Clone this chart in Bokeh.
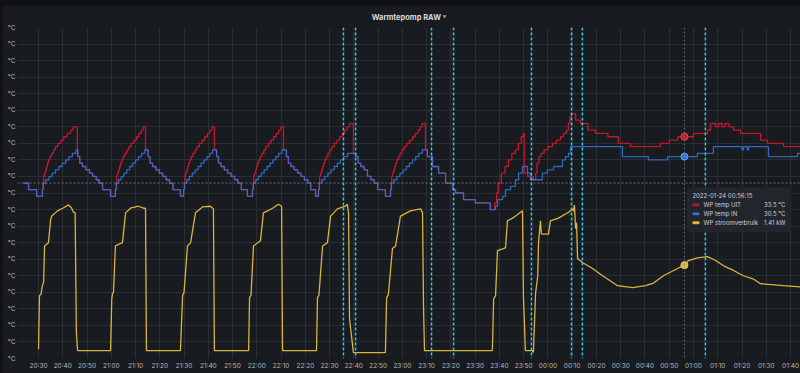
import datetime as dt
from bokeh.plotting import figure
from bokeh.models import (Range1d, FixedTicker, CustomJSTickFormatter, DatetimeTickFormatter,
                          Span, Label, BoxAnnotation, ColumnDataSource, GlobalInlineStyleSheet)
from bokeh.embed import file_html
from bokeh.resources import INLINE

# ---------------- data (time = minutes after 2022-01-23 20:30) ----------------
title_text = "Warmtepomp RAW ˅"
x_tick_labels = ["20:30", "20:40", "20:50", "21:00", "21:10", "21:20", "21:30", "21:40",
                 "21:50", "22:00", "22:10", "22:20", "22:30", "22:40", "22:50", "23:00",
                 "23:10", "23:20", "23:30", "23:40", "23:50", "00:00", "00:10", "00:20",
                 "00:30", "00:40", "00:50", "01:00", "01:10", "01:20", "01:30", "01:40"]
y_ticks = [0, 2.5, 5, 7.5, 10, 12.5, 15, 17.5, 20, 22.5, 25, 27.5, 30, 32.5, 35, 37.5,
           40, 42.5, 45, 47.5, 50]
y_tick_label = "°C"

series_names = ["WP temp UIT", "WP temp IN", "WP stroomverbruik"]
series_colors = ["#C4162A", "#3274D9", "#DCB43C"]

uit_t = [-6.2, -4.1, -0.8,
         1.6, 1.9, 2.1, 2.4, 2.9, 3.3, 3.7, 4.1, 4.7, 5.4, 6.2, 7.0, 8.0, 9.2, 10.4, 11.8, 13.2, 14.3, 16.0, 16.2, 17.0, 18.1, 19.5, 21.0, 22.3, 23.8, 25.0, 26.4, 29.7,
         31.7, 32.0, 32.2, 32.5, 33.0, 33.4, 33.8, 34.3, 34.9, 35.6, 36.4, 37.2, 38.2, 39.3, 40.4, 41.4, 42.4, 43.2, 44.1, 45.2, 46.0, 47.0, 48.4, 49.8, 51.2, 52.6, 54.0, 55.4, 58.5,
         59.8, 60.1, 60.3, 60.6, 61.1, 61.5, 61.9, 62.4, 63.0, 63.7, 64.5, 65.3, 66.3, 67.4, 68.5, 69.6, 70.6, 71.5, 72.5, 73.4, 74.2, 75.2, 76.6, 78.0, 79.4, 80.8, 82.2, 83.6, 86.1,
         88.2, 88.5, 88.7, 89.0, 89.5, 89.9, 90.3, 90.8, 91.4, 92.1, 92.9, 93.7, 94.7, 95.8, 96.9, 98.0, 99.0, 99.9, 101.0, 102.2, 103.0, 104.0, 105.4, 106.8, 108.2, 109.6, 111.0, 112.2, 114.2,
         115.4, 115.7, 115.9, 116.2, 116.7, 117.1, 117.5, 118.0, 118.6, 119.3, 120.1, 120.9, 121.9, 123.0, 124.1, 125.2, 126.2, 127.2, 128.2, 129.8, 130.8, 131.8, 132.8, 134.2, 135.6, 137.0, 138.4, 139.8, 143.0,
         145.1, 145.4, 145.6, 145.9, 146.4, 146.8, 147.2, 147.7, 148.3, 149.0, 149.8, 150.7, 151.8, 153.0, 154.2, 155.3, 156.4, 157.3, 158.1, 159.5, 160.3, 162.4, 164.9, 167.8, 170.7, 171.9, 175.2, 180.1, 186.1,
         188.0, 188.8, 189.5, 190.8, 192.3, 193.7, 195.1, 196.5, 197.8, 199.0, 199.8, 200.2, 201.6, 204.0, 204.9, 205.5, 206.3, 207.2, 208.4, 210.0, 211.9, 213.5, 215.2, 216.4, 217.6, 218.4, 219.0, 219.7,
         221.4, 223.4, 226.5, 229.6, 234.7, 239.0, 244.0, 256.4, 260.0, 263.5, 270.0, 275.8, 277.0, 279.1, 280.3, 281.8, 283.0, 284.6, 286.5, 289.4, 297.6, 300.5, 307.1, 315.0]
uit_v = [26.5, 25.5, 24.5,
         25.5, 26.5, 27.5, 28, 28.5, 29, 29.5, 30, 30.5, 31, 31.5, 32, 32.5, 33, 33.5, 34, 34.5, 35, 31.5, 30.5, 29.5, 29, 28.5, 28, 27.5, 27, 26.5, 25.5, 24.5,
         25.5, 26.5, 27.5, 28, 28.5, 29, 29.5, 30, 30.5, 31, 31.5, 32, 32.5, 33, 33.5, 34, 34.5, 35, 31.5, 30.5, 29.5, 29, 28.5, 28, 27.5, 27, 26.5, 25.5, 24.5,
         25.5, 26.5, 27.5, 28, 28.5, 29, 29.5, 30, 30.5, 31, 31.5, 32, 32.5, 33, 33.5, 34, 34.5, 35, 31.5, 30.5, 29.5, 29, 28.5, 28, 27.5, 27, 26.5, 25.5, 24.5,
         25.5, 26.5, 27.5, 28, 28.5, 29, 29.5, 30, 30.5, 31, 31.5, 32, 32.5, 33, 33.5, 34, 34.5, 35, 31.5, 30.5, 29.5, 29, 28.5, 28, 27.5, 27, 26.5, 25.5, 24.5,
         25.5, 26.5, 27.5, 28, 28.5, 29, 29.5, 30, 30.5, 31, 31.5, 32, 32.5, 33, 33.5, 34, 34.5, 35, 35.5, 31, 30.5, 29.5, 29, 28.5, 27.5, 27, 26.5, 25.5, 24.5,
         25.5, 26.5, 27.5, 28, 28.5, 29, 29.5, 30, 30.5, 31, 31.5, 32, 32.5, 33, 33.5, 34, 34.5, 35, 35.5, 31.5, 30.5, 29, 28, 26.5, 25.5, 25, 24, 23.5, 22.5,
         23.5, 25, 26.5, 28, 29, 30, 31, 31.5, 32.5, 33.5, 34, 28, 27.5, 27, 28, 29.5, 30.5, 31, 31.5, 32, 32.5, 33, 33.5, 34, 34.5, 35.5, 36.5, 37,
         36, 35.5, 34.5, 34, 33.5, 32.5, 32, 32.5, 33, 33.5, 34, 34.5, 35.5, 35, 35.5, 35, 35.5, 35, 34.5, 34, 33, 32.5, 32, 32]

in_t = [-6.2, -4.1, -0.8,
        1.6, 2.0, 3.0, 4.4, 5.6, 7.0, 8.4, 9.8, 11.2, 12.6, 14.0, 15.4, 16.2, 17.0, 18.1, 19.5, 21.0, 22.3, 23.8, 25.0, 26.4, 29.7,
        31.7, 32.1, 33.0, 34.1, 35.2, 36.4, 37.6, 38.8, 40.0, 41.2, 42.5, 43.8, 45.2, 46.0, 47.0, 48.4, 49.8, 51.2, 52.6, 54.0, 55.4, 58.5,
        59.8, 60.2, 61.1, 62.2, 63.4, 64.6, 65.8, 67.0, 68.2, 69.4, 70.6, 71.8, 73.4, 74.2, 75.2, 76.6, 78.0, 79.4, 80.8, 82.2, 83.6, 86.1,
        88.2, 88.6, 89.5, 90.6, 91.8, 93.0, 94.2, 95.4, 96.6, 97.8, 99.0, 100.4, 102.2, 103.0, 104.0, 105.4, 106.8, 108.2, 109.6, 111.0, 112.2, 114.2,
        115.4, 115.8, 116.8, 118.0, 119.3, 120.6, 121.9, 123.2, 124.5, 125.8, 127.4, 130.8, 131.8, 132.8, 134.2, 135.6, 137.0, 138.4, 139.8, 143.0,
        145.1, 145.5, 146.5, 147.7, 149.0, 150.3, 151.6, 152.9, 154.2, 155.5, 156.8, 158.2, 160.3, 162.4, 164.9, 167.8, 170.7, 171.9, 175.2, 180.1, 186.3,
        188.4, 189.2, 191.3, 192.5, 194.6, 196.6, 197.9, 199.5, 201.6, 202.8, 207.7, 209.8, 212.3, 216.0, 217.2, 218.5, 219.3,
        240.7, 251.4, 259.3, 271.6, 278.2, 290.0, 290.6, 292.1, 292.7, 300.9, 312.9, 315.0]
in_v = [26.5, 25.5, 24.5,
        25.5, 26.5, 27, 27.5, 28, 28.5, 29, 29.5, 30, 30.5, 31, 31.5, 30.5, 29.5, 29, 28.5, 28, 27.5, 27, 26.5, 25.5, 24.5,
        25.5, 26.5, 27, 27.5, 28, 28.5, 29, 29.5, 30, 30.5, 31, 31.5, 30.5, 29.5, 29, 28.5, 28, 27.5, 27, 26.5, 25.5, 24.5,
        25.5, 26.5, 27, 27.5, 28, 28.5, 29, 29.5, 30, 30.5, 31, 31.5, 30.5, 29.5, 29, 28.5, 28, 27.5, 27, 26.5, 25.5, 24.5,
        25.5, 26.5, 27, 27.5, 28, 28.5, 29, 29.5, 30, 30.5, 31, 31.5, 30.5, 29.5, 29, 28.5, 28, 27.5, 27, 26.5, 25.5, 24.5,
        25.5, 26.5, 27, 27.5, 28, 28.5, 29, 29.5, 30, 30.5, 31, 30.5, 29.5, 29, 28.5, 27.5, 27, 26.5, 25.5, 24.5,
        25.5, 26.5, 27, 27.5, 28, 28.5, 29, 29.5, 30, 30.5, 31, 31.5, 30.5, 29, 28, 26.5, 25.5, 25, 24, 23.5, 22.5,
        23, 24, 24.5, 25.5, 26, 27, 28, 29, 28, 27, 28, 28.5, 29, 30, 30.5, 31, 32,
        30.5, 30, 30.5, 31, 32, 31.5, 32, 31.5, 32, 30.5, 31, 31]

kw_t = [0.0, 0.4, 1.0, 1.6, 2.1, 2.5, 4.1, 5.0, 5.4, 7.8, 10.0, 12.4, 13.5, 14.4, 15.1, 15.6, 16.1, 29.7,
        30.2, 30.5, 30.9, 31.7, 34.6, 35.9, 37.9, 41.2, 43.3, 44.1, 44.5, 58.5,
        59.4, 60.0, 61.4, 62.7, 64.7, 67.6, 70.9, 72.1, 72.5, 86.6,
        87.0, 87.6, 88.6, 91.5, 92.7, 96.5, 98.9, 100.2, 100.6, 114.6,
        115.0, 115.6, 117.1, 119.1, 120.4, 123.2, 126.5, 127.3, 127.8, 128.2, 129.8, 143.0,
        143.5, 144.2, 145.9, 147.2, 149.2, 153.3, 157.5, 158.3, 158.7, 159.1, 187.1,
        187.6, 188.4, 189.2, 192.5, 193.3, 195.4, 198.7, 199.5, 199.9, 200.7, 203.6, 204.0,
        204.9, 205.8, 206.1, 206.9, 207.3, 210.2, 211.0, 214.3, 218.5, 220.1, 220.5, 220.9,
        221.4, 221.8, 222.2, 224.2, 228.4, 232.5, 235.8, 238.7, 244.8, 250.2, 253.5, 257.6,
        263.4, 266.3, 267.9, 271.6, 275.8, 279.1, 282.4, 286.5, 290.6, 294.7, 297.6, 307.1, 314.1]
kw_v = [0.14, 0.95, 0.97, 1.10, 1.15, 1.70, 1.75, 2.10, 2.15, 2.23, 2.27, 2.32, 2.28, 2.21, 2.20, 0.40, 0.12, 0.12,
        0.90, 0.98, 1.00, 1.70, 1.75, 2.20, 2.27, 2.30, 2.27, 2.27, 0.12, 0.12,
        0.95, 1.00, 1.70, 1.75, 2.20, 2.29, 2.30, 2.26, 0.12, 0.12,
        0.92, 0.96, 1.70, 1.78, 2.20, 2.27, 2.33, 2.30, 0.12, 0.12,
        0.92, 0.96, 1.70, 1.75, 2.15, 2.26, 2.30, 2.33, 2.20, 0.60, 0.09, 0.09,
        0.92, 0.96, 1.66, 1.70, 2.15, 2.23, 2.26, 2.20, 0.80, 0.12, 0.12,
        0.90, 0.95, 1.63, 1.67, 2.08, 2.12, 2.21, 2.23, 0.92, 0.12, 0.12, 0.09,
        0.99, 1.25, 1.75, 2.08, 1.88, 1.88, 2.08, 2.12, 2.21, 2.26, 2.23, 2.32,
        1.96, 2.05, 1.51, 1.45, 1.36, 1.25, 1.17, 1.10, 1.07, 1.10, 1.14, 1.25,
        1.36, 1.41, 1.48, 1.52, 1.54, 1.48, 1.40, 1.33, 1.25, 1.20, 1.13, 1.10, 1.08]

annotation_t = [125.7, 130.7, 162.0, 171.1, 203.2, 219.7, 224.2, 274.9]

hover_t = 266.25
hover_label = "2022-01-24 00:56:15"
hover_uit = 33.5
hover_in = 30.5
hover_kw = 1.41
hover_texts = ["33.5 °C", "30.5 °C", "1.41 kW"]
crosshair_y = 26.5

# ---------------- helpers ----------------
BASE = dt.datetime(2022, 1, 23, 20, 30)
EPOCH = dt.datetime(1970, 1, 1)
BASE_MS = (BASE - EPOCH).total_seconds() * 1000.0


def ms(m):
    return BASE_MS + m * 60000.0


def to_dt(ts):
    return [BASE + dt.timedelta(minutes=m) for m in ts]


def tick_ms(label):
    h, mnt = map(int, label.split(":"))
    d = BASE.replace(hour=h, minute=mnt)
    if d < BASE:
        d += dt.timedelta(days=1)
    return (d - EPOCH).total_seconds() * 1000.0


PANEL = "#181b1f"
GRID = "#2a2d33"
TEXT = "#ccccdc"
AXIS_TEXT = "#b4b7bd"
FONT = "Inter"

p = figure(width=798, height=368, x_axis_type="datetime",
           x_range=Range1d(ms(-8.66), ms(314.1)), y_range=Range1d(0, 50),
           output_backend="svg", toolbar_location=None,
           background_fill_color=PANEL, border_fill_color=PANEL,
           outline_line_color=None, min_border_left=15, min_border_right=0,
           min_border_top=21, min_border_bottom=15)
p.margin = (5, 0, 0, 2)
p.extra_y_ranges = {"kw": Range1d(0, 5)}
p.stylesheets = [GlobalInlineStyleSheet(css="body{background:#111217;}")]

p.title.text = title_text
p.title.align = "center"
p.title.text_font = FONT
p.title.text_font_size = "7.5px"
p.title.text_color = "#d8d9da"
p.title.text_font_style = "bold"
p.title.standoff = 11
p.title.offset = 4

# axes
p.xaxis.ticker = FixedTicker(ticks=[tick_ms(l) for l in x_tick_labels])
fmt = "%H:%M"
p.xaxis.formatter = DatetimeTickFormatter(milliseconds=fmt, seconds=fmt, minsec=fmt, minutes=fmt,
                                          hourmin=fmt, hours=fmt, days=fmt, months=fmt, years=fmt)
p.yaxis.ticker = FixedTicker(ticks=y_ticks)
p.yaxis.formatter = CustomJSTickFormatter(code="return '%s'" % y_tick_label)
for ax in (p.xaxis[0], p.yaxis[0]):
    ax.axis_line_color = None
    ax.major_tick_line_color = None
    ax.minor_tick_line_color = None
    ax.major_tick_out = 0
    ax.major_tick_in = 0
    ax.minor_tick_out = 0
    ax.minor_tick_in = 0
    ax.major_label_text_font = FONT
    ax.major_label_text_font_size = "6.5px"
    ax.major_label_text_color = AXIS_TEXT
p.xaxis.major_label_standoff = 3
p.yaxis.major_label_standoff = 2
p.grid.grid_line_color = GRID
p.grid.grid_line_width = 1

# annotations (events)
for a in annotation_t:
    p.add_layout(Span(location=ms(a), dimension="height", line_color="#3fc6e6",
                      line_width=1.5, line_dash="3 2"))

# series
uit_src = ColumnDataSource(dict(x=to_dt(uit_t), y=uit_v))
in_src = ColumnDataSource(dict(x=to_dt(in_t), y=in_v))
kw_src = ColumnDataSource(dict(x=to_dt(kw_t), y=kw_v))
p.step("x", "y", source=uit_src, mode="after", line_color=series_colors[0], line_width=1.3)
p.step("x", "y", source=in_src, mode="after", line_color=series_colors[1], line_width=1.3, line_alpha=0.85)
p.line("x", "y", source=kw_src, y_range_name="kw", line_color=series_colors[2], line_width=1.3)

# crosshair
p.add_layout(Span(location=ms(hover_t), dimension="height", line_color="#8a8d93",
                  line_width=1, line_dash="2 2", line_alpha=0.7))
p.add_layout(Span(location=crosshair_y, dimension="width", line_color="#8a8d93",
                  line_width=1, line_dash="2 2", line_alpha=0.7))

# hover points
hx = [BASE + dt.timedelta(minutes=hover_t)]
p.scatter(hx, [hover_uit], size=7, fill_color=series_colors[0], line_color="#e05060", line_width=1)
p.scatter(hx, [hover_in], size=7, fill_color=series_colors[1], line_color="#6a9cf0", line_width=1)
p.scatter(hx, [hover_kw], size=7, fill_color=series_colors[2], line_color="#f0d060", line_width=1,
          y_range_name="kw")

# tooltip
p.add_layout(BoxAnnotation(left=ms(hover_t + 1.25), right=ms(hover_t + 44.0), top=25.8, bottom=19.1,
                           fill_color="#22252b", fill_alpha=1.0, line_color="#2f3237",
                           line_width=1, border_radius=2, level="overlay"))
p.add_layout(Label(x=ms(hover_t + 3.3), y=24.55, text=hover_label, text_font=FONT,
                   text_font_size="6px", text_color=TEXT, text_baseline="middle", level="overlay"))
row_y = [23.2, 21.85, 20.5]
for name, col, val, ry in zip(series_names, series_colors, hover_texts, row_y):
    p.add_layout(BoxAnnotation(left=ms(hover_t + 3.3), right=ms(hover_t + 6.2), top=ry + 0.22,
                               bottom=ry - 0.22, fill_color=col, fill_alpha=1.0, line_color=None,
                               border_radius=1, level="overlay"))
    p.add_layout(Label(x=ms(hover_t + 7.9), y=ry, text=name, text_font=FONT, text_font_size="6px",
                       text_color=TEXT, text_baseline="middle", level="overlay"))
    p.add_layout(Label(x=ms(hover_t + 41.6), y=ry, text=val, text_font=FONT, text_font_size="6px",
                       text_color=TEXT, text_baseline="middle", text_align="right", level="overlay"))

open("out.html", "w").write(file_html(p, INLINE))
